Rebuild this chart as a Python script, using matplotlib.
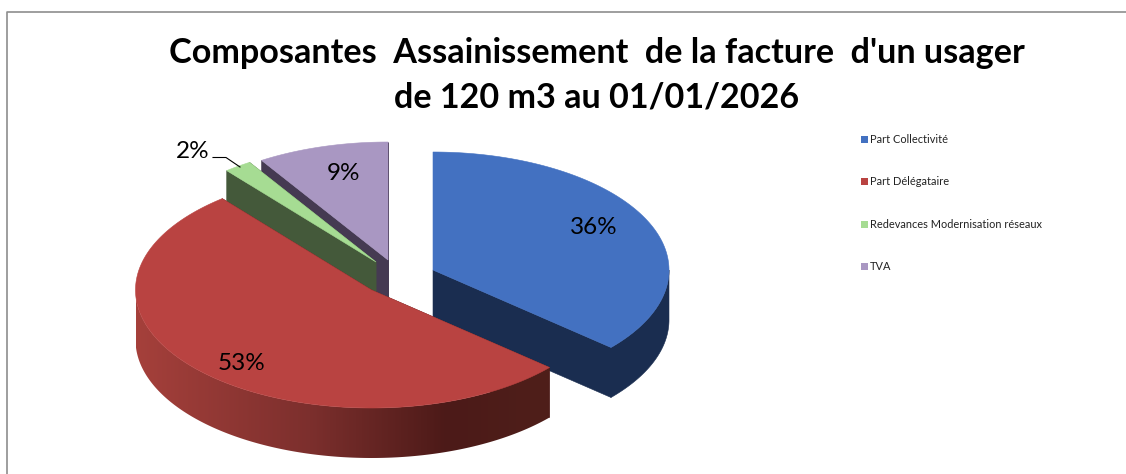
import numpy as np
import matplotlib
matplotlib.use("Agg")
import matplotlib.pyplot as plt
from matplotlib.colors import LinearSegmentedColormap
from matplotlib.patches import Polygon

categories = ["Part Collectivité", "Part Délégataire", "Redevances Modernisation réseaux", "TVA"]
values = [36.4, 52.7, 1.9, 9.0]
title_lines = ["Composantes  Assainissement  de la facture  d'un usager", "de 120 m3 au 01/01/2026"]

top_colors = ["#4371C1", "#B94341", "#A6DC93", "#A997C2"]
side_colors = ["#1A2D50", "#4C1B18", "#44593A", "#453A52"]
apex_x = [433, 371.5, 376, 388]
apex_y = [270, 290, 262, 260]
radius_x = 236
radius_y = 118
depth = 50
label_xy = [(594, 227), (242, 363), (193, 152), (343, 174)]
legend_y = [139.5, 181.5, 224.5, 266.5]

plt.rcParams["font.family"] = ["Lato", "DejaVu Sans"]
fig = plt.figure(figsize=(11.26, 4.74), dpi=100, facecolor="white")
ax = fig.add_axes([0, 0, 1, 1])
ax.axis("off")

ax.plot([6.5, 6.5, 1126], [474, 11.5, 11.5], color="#8E8E8E", lw=1.2, solid_capstyle="butt")

fractions = np.array(values) / sum(values)
ends = np.cumsum(fractions) * 2 * np.pi
starts = ends - fractions * 2 * np.pi


def rim(cx, cy, t):
    return cx + radius_x * np.sin(t), cy - radius_y * np.cos(t)


wall_cmap = LinearSegmentedColormap.from_list(
    "wall", [(0.0, "#A5403B"), (0.42, "#7C2F2D"), (0.75, "#4C1A18"), (1.0, "#4F1F1A")]
)

for i in [3, 2, 0, 1]:
    cx, cy = apex_x[i], apex_y[i]
    a0, a1 = starts[i], ends[i]
    # radial faces
    for a in (a0, a1):
        ex, ey = rim(cx, cy, a)
        ax.add_patch(Polygon([(cx, cy), (ex, ey), (ex, ey + depth), (cx, cy + depth)],
                             closed=True, fc=side_colors[i], ec=side_colors[i], lw=0.4))
    # outer wall (only the part that faces the viewer)
    w0, w1 = max(a0, np.pi / 2), min(a1, 3 * np.pi / 2)
    if w1 > w0:
        ts = np.linspace(w0, w1, 200)
        xs, ys = rim(cx, cy, ts)
        wall = np.r_[np.c_[xs, ys], np.c_[xs[::-1], ys[::-1] + depth]]
        if i == 1:
            poly = Polygon(wall, closed=True, fc="none", ec="none")
            ax.add_patch(poly)
            im = ax.imshow(np.linspace(0, 1, 256)[None, :], cmap=wall_cmap, aspect="auto",
                           extent=(xs.min(), xs.max(), ys.max() + depth, ys.min()),
                           interpolation="bilinear", zorder=1)
            im.set_clip_path(poly)
        else:
            ax.add_patch(Polygon(wall, closed=True, fc=side_colors[i], ec=side_colors[i], lw=0.4))
    # top face
    ts = np.linspace(a0, a1, 200)
    xs, ys = rim(cx, cy, ts)
    ax.add_patch(Polygon(np.r_[[(cx, cy)], np.c_[xs, ys]], closed=True,
                         fc=top_colors[i], ec=top_colors[i], lw=0.4, zorder=2 if i == 1 else 1))

ax.set_xlim(0, 1126)
ax.set_ylim(474, 0)

for (lx, ly), v in zip(label_xy, values):
    ax.text(lx, ly, f"{v:.0f}%", fontsize=17.5, ha="center", va="center", color="black", zorder=5)

ax.plot([213, 226, 240], [157.5, 157.5, 167], color="black", lw=0.8, zorder=5)

for line, y in zip(title_lines, [53, 97]):
    ax.text(597, y, line, fontsize=24.6, fontweight="bold", ha="center", va="center", color="black")

for name, color, y in zip(categories, top_colors, legend_y):
    ax.add_patch(plt.Rectangle((861, y - 3.5), 7, 7, fc=color, ec="none"))
    ax.text(870, y, name, fontsize=7.9, ha="left", va="center", color="#222222")

fig.savefig("out.png", dpi=100)
